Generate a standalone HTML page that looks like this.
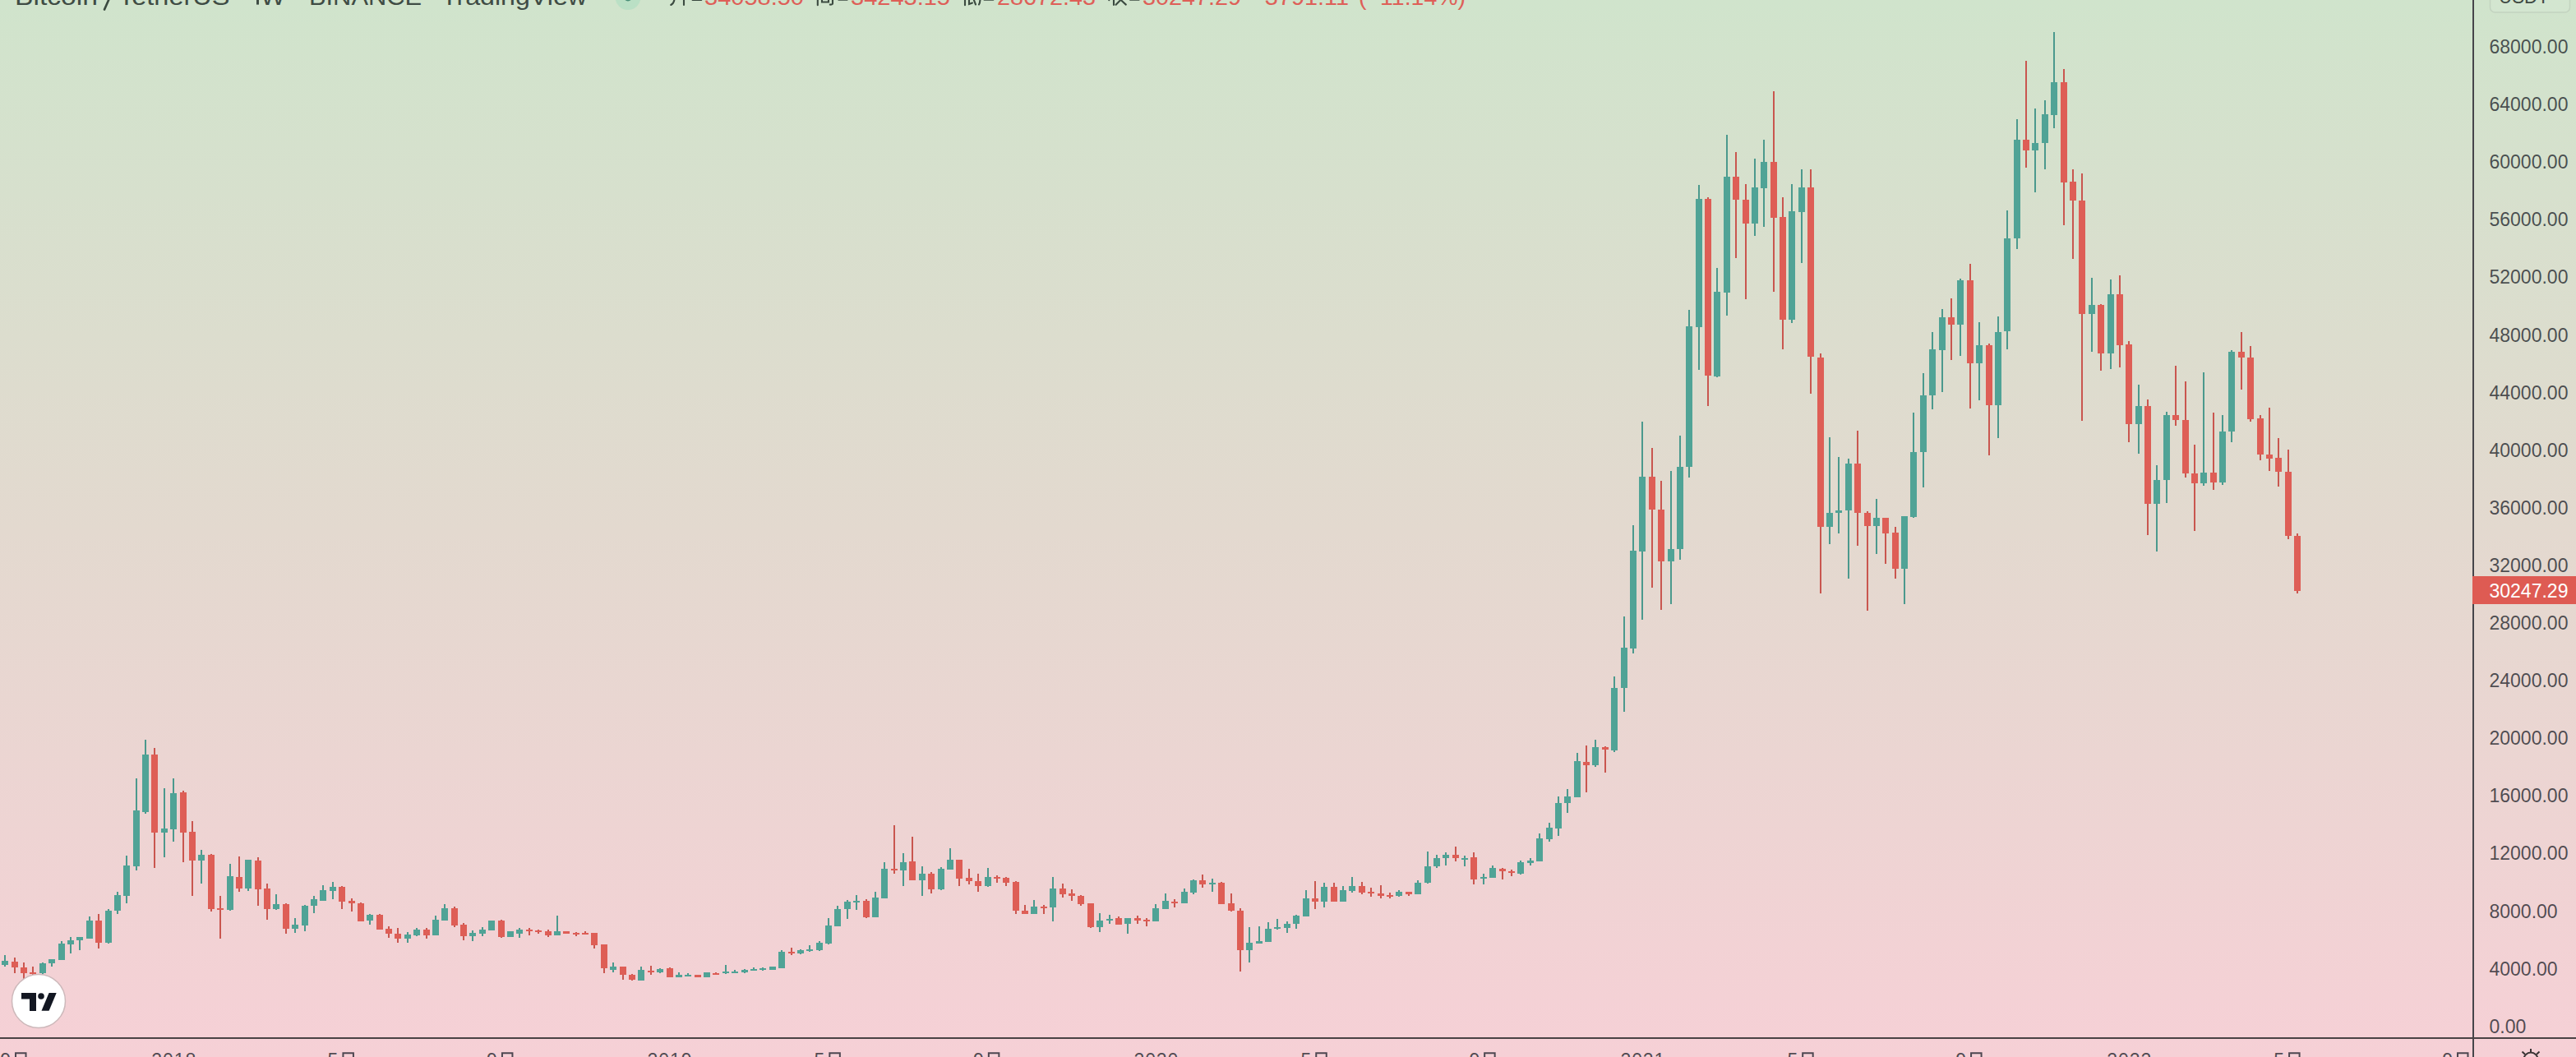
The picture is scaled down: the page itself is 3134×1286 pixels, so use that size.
<!DOCTYPE html>
<html><head><meta charset="utf-8"><style>
html,body{margin:0;padding:0}
body{width:3134px;height:1286px;overflow:hidden;position:relative;
background:linear-gradient(to bottom,#d0e4cc 0px,#e3d9cf 643px,#f6d0d6 1286px);
font-family:"Liberation Sans",sans-serif;}
svg{position:absolute;left:0;top:0}
</style></head><body>
<svg width="3134" height="1286" viewBox="0 0 3134 1286" shape-rendering="crispEdges">
<path fill="#4b998d" d="M5 1162h2v14h-2zM51 1171h2v14h-2zM62 1167h2v9h-2zM74 1145h2v23h-2zM85 1140h2v20h-2zM96 1140h2v16h-2zM108 1115h2v27h-2zM131 1106h2v42h-2zM142 1085h2v27h-2zM153 1041h2v58h-2zM165 947h2v112h-2zM176 900h2v90h-2zM199 959h2v84h-2zM210 947h2v77h-2zM244 1034h2v41h-2zM279 1051h2v57h-2zM301 1046h2v38h-2zM335 1088h2v19h-2zM358 1117h2v18h-2zM370 1101h2v32h-2zM381 1090h2v21h-2zM392 1077h2v19h-2zM404 1073h2v21h-2zM449 1112h2v13h-2zM495 1134h2v13h-2zM506 1129h2v10h-2zM529 1114h2v24h-2zM540 1100h2v20h-2zM574 1132h2v13h-2zM586 1128h2v11h-2zM597 1120h2v12h-2zM620 1133h2v7h-2zM631 1129h2v12h-2zM677 1114h2v24h-2zM745 1171h2v12h-2zM779 1176h2v17h-2zM802 1178h2v6h-2zM825 1183h2v6h-2zM836 1184h2v4h-2zM859 1183h2v6h-2zM882 1174h2v11h-2zM893 1180h2v4h-2zM905 1179h2v5h-2zM916 1177h2v4h-2zM927 1177h2v4h-2zM939 1176h2v4h-2zM950 1156h2v22h-2zM973 1155h2v6h-2zM984 1150h2v8h-2zM996 1145h2v12h-2zM1007 1117h2v32h-2zM1018 1102h2v25h-2zM1030 1095h2v23h-2zM1041 1089h2v18h-2zM1064 1085h2v31h-2zM1075 1049h2v44h-2zM1098 1038h2v40h-2zM1121 1054h2v36h-2zM1144 1055h2v28h-2zM1155 1032h2v26h-2zM1201 1056h2v23h-2zM1257 1095h2v17h-2zM1280 1067h2v54h-2zM1337 1111h2v23h-2zM1349 1113h2v11h-2zM1371 1117h2v19h-2zM1405 1100h2v21h-2zM1417 1087h2v19h-2zM1440 1081h2v18h-2zM1451 1070h2v18h-2zM1474 1069h2v16h-2zM1519 1128h2v43h-2zM1531 1127h2v21h-2zM1542 1122h2v24h-2zM1553 1118h2v13h-2zM1565 1121h2v14h-2zM1576 1113h2v17h-2zM1588 1083h2v32h-2zM1610 1074h2v30h-2zM1633 1078h2v19h-2zM1644 1067h2v19h-2zM1701 1083h2v8h-2zM1724 1071h2v17h-2zM1736 1036h2v39h-2zM1747 1040h2v16h-2zM1758 1037h2v16h-2zM1781 1041h2v13h-2zM1804 1063h2v13h-2zM1815 1053h2v15h-2zM1849 1047h2v17h-2zM1861 1044h2v9h-2zM1872 1014h2v34h-2zM1884 1001h2v23h-2zM1895 969h2v48h-2zM1906 960h2v29h-2zM1918 916h2v54h-2zM1940 900h2v33h-2zM1963 823h2v92h-2zM1975 750h2v116h-2zM1986 639h2v156h-2zM1997 513h2v241h-2zM2032 573h2v162h-2zM2043 530h2v151h-2zM2054 377h2v204h-2zM2066 225h2v225h-2zM2088 326h2v133h-2zM2100 164h2v220h-2zM2134 193h2v94h-2zM2145 170h2v106h-2zM2179 224h2v169h-2zM2191 206h2v114h-2zM2225 532h2v130h-2zM2236 556h2v93h-2zM2248 558h2v146h-2zM2282 607h2v67h-2zM2316 628h2v107h-2zM2327 502h2v128h-2zM2339 454h2v139h-2zM2350 404h2v94h-2zM2362 376h2v101h-2zM2384 339h2v94h-2zM2407 392h2v95h-2zM2430 385h2v148h-2zM2441 256h2v169h-2zM2453 145h2v158h-2zM2475 132h2v102h-2zM2487 122h2v84h-2zM2498 39h2v117h-2zM2544 338h2v90h-2zM2567 340h2v109h-2zM2601 468h2v84h-2zM2623 566h2v105h-2zM2635 501h2v111h-2zM2680 453h2v138h-2zM2703 505h2v85h-2zM2714 426h2v112h-2z"/><path fill="#c9564f" d="M17 1165h2v19h-2zM28 1171h2v20h-2zM39 1176h2v10h-2zM119 1112h2v42h-2zM187 910h2v146h-2zM222 962h2v87h-2zM233 999h2v91h-2zM256 1039h2v70h-2zM267 1090h2v52h-2zM290 1042h2v43h-2zM313 1043h2v59h-2zM324 1075h2v44h-2zM347 1099h2v37h-2zM415 1078h2v28h-2zM427 1093h2v16h-2zM438 1098h2v23h-2zM461 1112h2v19h-2zM472 1127h2v14h-2zM483 1129h2v18h-2zM518 1129h2v13h-2zM552 1103h2v25h-2zM563 1123h2v21h-2zM609 1119h2v22h-2zM643 1129h2v9h-2zM654 1131h2v5h-2zM666 1131h2v9h-2zM688 1133h2v3h-2zM700 1134h2v5h-2zM711 1133h2v4h-2zM722 1135h2v19h-2zM734 1149h2v35h-2zM757 1176h2v16h-2zM768 1185h2v8h-2zM791 1175h2v11h-2zM814 1177h2v12h-2zM848 1186h2v3h-2zM870 1183h2v3h-2zM962 1153h2v9h-2zM1053 1094h2v23h-2zM1087 1004h2v59h-2zM1109 1018h2v53h-2zM1132 1061h2v26h-2zM1166 1046h2v32h-2zM1178 1057h2v19h-2zM1189 1063h2v22h-2zM1212 1065h2v9h-2zM1223 1067h2v11h-2zM1235 1072h2v40h-2zM1246 1101h2v11h-2zM1269 1101h2v11h-2zM1292 1075h2v17h-2zM1303 1082h2v14h-2zM1314 1089h2v13h-2zM1326 1099h2v30h-2zM1360 1115h2v10h-2zM1383 1114h2v10h-2zM1394 1117h2v10h-2zM1428 1094h2v10h-2zM1462 1064h2v16h-2zM1485 1073h2v27h-2zM1497 1087h2v22h-2zM1508 1105h2v77h-2zM1599 1072h2v34h-2zM1622 1074h2v23h-2zM1656 1073h2v15h-2zM1667 1080h2v11h-2zM1679 1077h2v16h-2zM1690 1086h2v7h-2zM1713 1085h2v5h-2zM1770 1030h2v18h-2zM1792 1037h2v39h-2zM1827 1056h2v14h-2zM1838 1058h2v8h-2zM1929 907h2v57h-2zM1952 908h2v32h-2zM2009 545h2v170h-2zM2020 585h2v157h-2zM2077 240h2v254h-2zM2111 185h2v129h-2zM2123 224h2v140h-2zM2157 111h2v244h-2zM2168 240h2v185h-2zM2202 206h2v273h-2zM2214 430h2v292h-2zM2259 524h2v140h-2zM2271 622h2v121h-2zM2293 630h2v56h-2zM2305 641h2v63h-2zM2373 363h2v75h-2zM2396 321h2v176h-2zM2419 418h2v136h-2zM2464 74h2v130h-2zM2510 84h2v190h-2zM2521 206h2v109h-2zM2532 211h2v301h-2zM2555 370h2v81h-2zM2578 335h2v112h-2zM2589 415h2v123h-2zM2612 486h2v165h-2zM2646 445h2v73h-2zM2658 464h2v117h-2zM2669 541h2v105h-2zM2692 502h2v94h-2zM2726 404h2v70h-2zM2737 421h2v92h-2zM2749 505h2v55h-2zM2760 496h2v77h-2zM2771 533h2v59h-2zM2783 547h2v109h-2zM2794 649h2v73h-2z"/><path fill="#50a396" d="M2 1169h8v5h-8zM48 1172h8v12h-8zM59 1167h8v5h-8zM71 1148h8v20h-8zM82 1144h8v5h-8zM93 1140h8v4h-8zM105 1120h8v22h-8zM128 1108h8v39h-8zM139 1089h8v19h-8zM150 1053h8v37h-8zM162 986h8v68h-8zM173 918h8v70h-8zM196 1008h8v5h-8zM207 965h8v44h-8zM241 1040h8v7h-8zM276 1066h8v41h-8zM298 1046h8v35h-8zM332 1100h8v6h-8zM355 1125h8v5h-8zM367 1102h8v24h-8zM378 1094h8v8h-8zM389 1083h8v13h-8zM401 1079h8v5h-8zM446 1113h8v7h-8zM492 1137h8v5h-8zM503 1131h8v7h-8zM526 1119h8v19h-8zM537 1105h8v15h-8zM571 1135h8v4h-8zM583 1131h8v5h-8zM594 1120h8v12h-8zM617 1133h8v7h-8zM628 1131h8v5h-8zM674 1133h8v5h-8zM742 1176h8v4h-8zM776 1180h8v13h-8zM799 1179h8v4h-8zM822 1186h8v3h-8zM833 1186h8v2h-8zM856 1183h8v6h-8zM879 1182h8v2h-8zM890 1182h8v2h-8zM902 1180h8v3h-8zM913 1179h8v2h-8zM924 1178h8v2h-8zM936 1176h8v4h-8zM947 1158h8v20h-8zM970 1156h8v4h-8zM981 1155h8v2h-8zM993 1147h8v9h-8zM1004 1126h8v22h-8zM1015 1106h8v21h-8zM1027 1097h8v9h-8zM1038 1096h8v2h-8zM1061 1092h8v24h-8zM1072 1057h8v36h-8zM1095 1049h8v10h-8zM1118 1063h8v8h-8zM1141 1057h8v25h-8zM1152 1046h8v12h-8zM1198 1067h8v11h-8zM1254 1103h8v9h-8zM1277 1081h8v23h-8zM1334 1120h8v8h-8zM1346 1118h8v2h-8zM1368 1117h8v7h-8zM1402 1105h8v16h-8zM1414 1096h8v10h-8zM1437 1085h8v14h-8zM1448 1071h8v15h-8zM1471 1074h8v2h-8zM1516 1147h8v9h-8zM1528 1145h8v3h-8zM1539 1130h8v16h-8zM1550 1128h8v2h-8zM1562 1124h8v5h-8zM1573 1114h8v10h-8zM1585 1093h8v22h-8zM1607 1079h8v18h-8zM1630 1083h8v14h-8zM1641 1078h8v6h-8zM1698 1085h8v5h-8zM1721 1074h8v14h-8zM1733 1054h8v20h-8zM1744 1044h8v10h-8zM1755 1040h8v4h-8zM1778 1044h8v2h-8zM1801 1067h8v2h-8zM1812 1056h8v12h-8zM1846 1049h8v14h-8zM1858 1047h8v3h-8zM1869 1020h8v28h-8zM1881 1007h8v14h-8zM1892 977h8v31h-8zM1903 969h8v8h-8zM1915 926h8v44h-8zM1937 909h8v22h-8zM1960 837h8v76h-8zM1972 788h8v49h-8zM1983 670h8v119h-8zM1994 580h8v91h-8zM2029 668h8v15h-8zM2040 568h8v100h-8zM2051 397h8v171h-8zM2063 242h8v156h-8zM2085 355h8v103h-8zM2097 215h8v141h-8zM2131 228h8v44h-8zM2142 197h8v32h-8zM2176 257h8v132h-8zM2188 228h8v30h-8zM2222 624h8v17h-8zM2233 621h8v3h-8zM2245 564h8v57h-8zM2279 630h8v10h-8zM2313 628h8v64h-8zM2324 550h8v79h-8zM2336 481h8v69h-8zM2347 425h8v56h-8zM2359 386h8v40h-8zM2381 341h8v54h-8zM2404 420h8v22h-8zM2427 404h8v89h-8zM2438 290h8v113h-8zM2450 170h8v120h-8zM2472 174h8v9h-8zM2484 139h8v35h-8zM2495 100h8v40h-8zM2541 371h8v11h-8zM2564 358h8v72h-8zM2598 494h8v22h-8zM2620 584h8v29h-8zM2632 505h8v79h-8zM2677 575h8v13h-8zM2700 525h8v62h-8zM2711 428h8v97h-8z"/><path fill="#de5e56" d="M14 1170h8v7h-8zM25 1177h8v7h-8zM36 1183h8v2h-8zM116 1120h8v27h-8zM184 918h8v95h-8zM219 964h8v49h-8zM230 1012h8v35h-8zM253 1040h8v66h-8zM264 1105h8v2h-8zM287 1067h8v14h-8zM310 1047h8v35h-8zM321 1081h8v25h-8zM344 1100h8v30h-8zM412 1079h8v18h-8zM424 1096h8v3h-8zM435 1099h8v22h-8zM458 1113h8v18h-8zM469 1130h8v6h-8zM480 1136h8v6h-8zM515 1131h8v7h-8zM549 1105h8v21h-8zM560 1125h8v14h-8zM606 1120h8v20h-8zM640 1131h8v2h-8zM651 1132h8v2h-8zM663 1133h8v5h-8zM685 1133h8v3h-8zM697 1135h8v2h-8zM708 1135h8v2h-8zM719 1135h8v15h-8zM731 1149h8v29h-8zM754 1176h8v10h-8zM765 1186h8v6h-8zM788 1181h8v2h-8zM811 1178h8v11h-8zM845 1186h8v3h-8zM867 1184h8v2h-8zM959 1158h8v2h-8zM1050 1096h8v20h-8zM1084 1057h8v2h-8zM1106 1048h8v23h-8zM1129 1063h8v19h-8zM1163 1046h8v23h-8zM1175 1068h8v4h-8zM1186 1072h8v6h-8zM1209 1067h8v2h-8zM1220 1068h8v6h-8zM1232 1073h8v35h-8zM1243 1108h8v4h-8zM1266 1103h8v2h-8zM1289 1081h8v7h-8zM1300 1087h8v3h-8zM1311 1090h8v10h-8zM1323 1099h8v29h-8zM1357 1117h8v8h-8zM1380 1117h8v3h-8zM1391 1119h8v2h-8zM1425 1097h8v2h-8zM1459 1071h8v5h-8zM1482 1074h8v26h-8zM1494 1099h8v9h-8zM1505 1108h8v48h-8zM1596 1093h8v4h-8zM1619 1079h8v18h-8zM1653 1078h8v8h-8zM1664 1085h8v2h-8zM1676 1087h8v3h-8zM1687 1089h8v2h-8zM1710 1085h8v3h-8zM1767 1040h8v4h-8zM1789 1043h8v27h-8zM1824 1057h8v3h-8zM1835 1060h8v2h-8zM1926 927h8v4h-8zM1949 909h8v3h-8zM2006 580h8v40h-8zM2017 620h8v63h-8zM2074 242h8v215h-8zM2108 215h8v28h-8zM2120 243h8v29h-8zM2154 197h8v68h-8zM2165 264h8v125h-8zM2199 228h8v206h-8zM2211 435h8v206h-8zM2256 564h8v60h-8zM2268 624h8v16h-8zM2290 630h8v19h-8zM2302 648h8v44h-8zM2370 386h8v9h-8zM2393 341h8v101h-8zM2416 420h8v73h-8zM2461 170h8v13h-8zM2507 100h8v122h-8zM2518 221h8v23h-8zM2529 244h8v138h-8zM2552 371h8v59h-8zM2575 358h8v62h-8zM2586 419h8v97h-8zM2609 494h8v119h-8zM2643 505h8v6h-8zM2655 511h8v65h-8zM2666 576h8v12h-8zM2689 575h8v12h-8zM2723 428h8v7h-8zM2734 435h8v75h-8zM2746 509h8v44h-8zM2757 553h8v5h-8zM2768 557h8v17h-8zM2780 574h8v78h-8zM2791 652h8v67h-8z"/>
</svg>
<svg width="3134" height="1286" viewBox="0 0 3134 1286">
<circle cx="47" cy="1218" r="32.5" fill="#ffffff" stroke="#cdb9bb" stroke-width="1.5"/>
<path fill="#131722" d="M26 1208h18v22h-8v-14.4h-10z"/>
<circle cx="50" cy="1212" r="3.8" fill="#131722"/>
<path fill="#131722" d="M59.6 1208h9.1l-9.1 21.8h-9.1z"/>
<circle cx="764" cy="-3.5" r="15.5" fill="#a8dcc0" fill-opacity="0.55"/>
<circle cx="764" cy="-3.5" r="5" fill="#4a8f78"/>
<g font-family="Liberation Sans" font-size="30" fill="#3f4c44">
<text x="18" y="5.6" textLength="101" lengthAdjust="spacingAndGlyphs">Bitcoin</text><text x="144" y="5.6" textLength="135.5" lengthAdjust="spacingAndGlyphs">TetherUS</text>
<rect x="312" y="-5" width="3" height="10.6"/><text x="317" y="5.6" textLength="30" lengthAdjust="spacingAndGlyphs">W</text>
<text x="376" y="5.6" textLength="137" lengthAdjust="spacingAndGlyphs">BINANCE</text>
<text x="537" y="5.6" textLength="177" lengthAdjust="spacingAndGlyphs">TradingView</text>
</g>
<g stroke="#3b4a40" stroke-width="2.1" fill="none" stroke-linecap="round">
<path d="M132.6 -1L127 11.6" stroke-width="2.6"/>
<path d="M820.5 -1Q820 4 816.3 6M832 -1V6"/>
<path d="M994.8 -1V6.3M1000 -1V2.5H1008V-1M1013 -1V4.3Q1013 5.6 1009.8 5.6"/>
<path d="M1174 -1V6.3M1179 -1V5L1183 3.5M1184.5 -1L1187 5.5M1192.5 -1Q1192.3 3.5 1191 5.5"/>
<path d="M1349.3 -1V0.3M1355 -1V6M1363.8 -0.5L1357.6 5.8M1364 0.3L1369.8 5.6"/>
</g>
<g fill="#3b4a40">
<rect x="841.5" y="-2" width="12.8" height="2.9" rx="0.8"/>
<rect x="1019.3" y="-2" width="12.3" height="2.8" rx="0.8"/>
<rect x="1196.5" y="-2" width="12.8" height="2.8" rx="0.8"/>
<rect x="1374" y="-2" width="12.6" height="2.8" rx="0.8"/>
</g>
<g font-family="Liberation Sans" font-size="28.5" fill="#de5f58">
<text x="857" y="5.6" textLength="121" lengthAdjust="spacingAndGlyphs">34058.50</text>
<text x="1035" y="5.6" textLength="121" lengthAdjust="spacingAndGlyphs">34243.15</text>
<text x="1213" y="5.6" textLength="120" lengthAdjust="spacingAndGlyphs">28672.43</text>
<text x="1390" y="5.6" textLength="120" lengthAdjust="spacingAndGlyphs">30247.29</text>
<text x="1522" y="5.6" textLength="119" lengthAdjust="spacingAndGlyphs">&#8722;3791.11</text>
<text x="1653" y="5.6" textLength="130" lengthAdjust="spacingAndGlyphs">(&#8722;11.14%)</text>
</g>
</svg>
<svg width="3134" height="1286" viewBox="0 0 3134 1286" shape-rendering="crispEdges">
<rect x="3008" y="0" width="2" height="1286" fill="#46454a"/>
<rect x="0" y="1262" width="3134" height="2" fill="#4a4244"/>
<rect x="3008" y="701" width="126" height="34" fill="#de5b53"/>
</svg>
<svg width="3134" height="1286" viewBox="0 0 3134 1286">
<rect x="3029.5" y="-20" width="97" height="35" rx="6" fill="#ffffff" fill-opacity="0.08" stroke="#b9c8b8" stroke-opacity="0.6" stroke-width="1.5"/>
<text x="3040" y="4" font-family="Liberation Sans" font-size="23" fill="#3f4a43" textLength="61" lengthAdjust="spacingAndGlyphs">USDT</text>
<g font-family="Liberation Sans" font-size="23" fill="#131722" fill-opacity="0.74">
<text x="3028.5" y="1256.7">0.00</text><text x="3028.5" y="1186.6">4000.00</text><text x="3028.5" y="1116.5">8000.00</text><text x="3028.5" y="1046.4">12000.00</text><text x="3028.5" y="976.3">16000.00</text><text x="3028.5" y="906.2">20000.00</text><text x="3028.5" y="836.1">24000.00</text><text x="3028.5" y="766.0">28000.00</text><text x="3028.5" y="695.9">32000.00</text><text x="3028.5" y="625.8">36000.00</text><text x="3028.5" y="555.7">40000.00</text><text x="3028.5" y="485.6">44000.00</text><text x="3028.5" y="415.5">48000.00</text><text x="3028.5" y="345.4">52000.00</text><text x="3028.5" y="275.3">56000.00</text><text x="3028.5" y="205.2">60000.00</text><text x="3028.5" y="135.1">64000.00</text><text x="3028.5" y="65.0">68000.00</text>
<text x="3028.5" y="726.6" fill="#ffffff" fill-opacity="1">30247.29</text>
<text x="0.2" y="1297.5">9</text><path d="M19.023 1287V1281.2h12.5V1287" fill="none" stroke="#131722" stroke-opacity="0.74" stroke-width="2"/><text x="211.2" y="1297.5" text-anchor="middle" textLength="54">2018</text><text x="398.6" y="1297.5">5</text><path d="M417.42799999999994 1287V1281.2h12.5V1287" fill="none" stroke="#131722" stroke-opacity="0.74" stroke-width="2"/><text x="592.1" y="1297.5">9</text><path d="M610.939 1287V1281.2h12.5V1287" fill="none" stroke="#131722" stroke-opacity="0.74" stroke-width="2"/><text x="814.5" y="1297.5" text-anchor="middle" textLength="54">2019</text><text x="990.5" y="1297.5">5</text><path d="M1009.3439999999999 1287V1281.2h12.5V1287" fill="none" stroke="#131722" stroke-opacity="0.74" stroke-width="2"/><text x="1184.1" y="1297.5">9</text><path d="M1202.8549999999998 1287V1281.2h12.5V1287" fill="none" stroke="#131722" stroke-opacity="0.74" stroke-width="2"/><text x="1406.4" y="1297.5" text-anchor="middle" textLength="54">2020</text><text x="1582.5" y="1297.5">5</text><path d="M1601.2599999999998 1287V1281.2h12.5V1287" fill="none" stroke="#131722" stroke-opacity="0.74" stroke-width="2"/><text x="1787.4" y="1297.5">9</text><path d="M1806.1539999999998 1287V1281.2h12.5V1287" fill="none" stroke="#131722" stroke-opacity="0.74" stroke-width="2"/><text x="1998.4" y="1297.5" text-anchor="middle" textLength="54">2021</text><text x="2174.4" y="1297.5">5</text><path d="M2193.1760000000004 1287V1281.2h12.5V1287" fill="none" stroke="#131722" stroke-opacity="0.74" stroke-width="2"/><text x="2379.3" y="1297.5">9</text><path d="M2398.07 1287V1281.2h12.5V1287" fill="none" stroke="#131722" stroke-opacity="0.74" stroke-width="2"/><text x="2590.3" y="1297.5" text-anchor="middle" textLength="54">2022</text><text x="2766.3" y="1297.5">5</text><path d="M2785.092 1287V1281.2h12.5V1287" fill="none" stroke="#131722" stroke-opacity="0.74" stroke-width="2"/><text x="2971.2" y="1297.5">9</text><path d="M2989.986 1287V1281.2h12.5V1287" fill="none" stroke="#131722" stroke-opacity="0.74" stroke-width="2"/>
</g>
<g stroke="#3a3435" stroke-width="2" fill="none">
<circle cx="3079" cy="1289" r="8.5"/>
<path d="M3079 1276v4.5M3068.5 1279.5l3.5 3.2M3089.5 1279.5l-3.5 3.2"/>
</g>
</svg>
</body></html>
